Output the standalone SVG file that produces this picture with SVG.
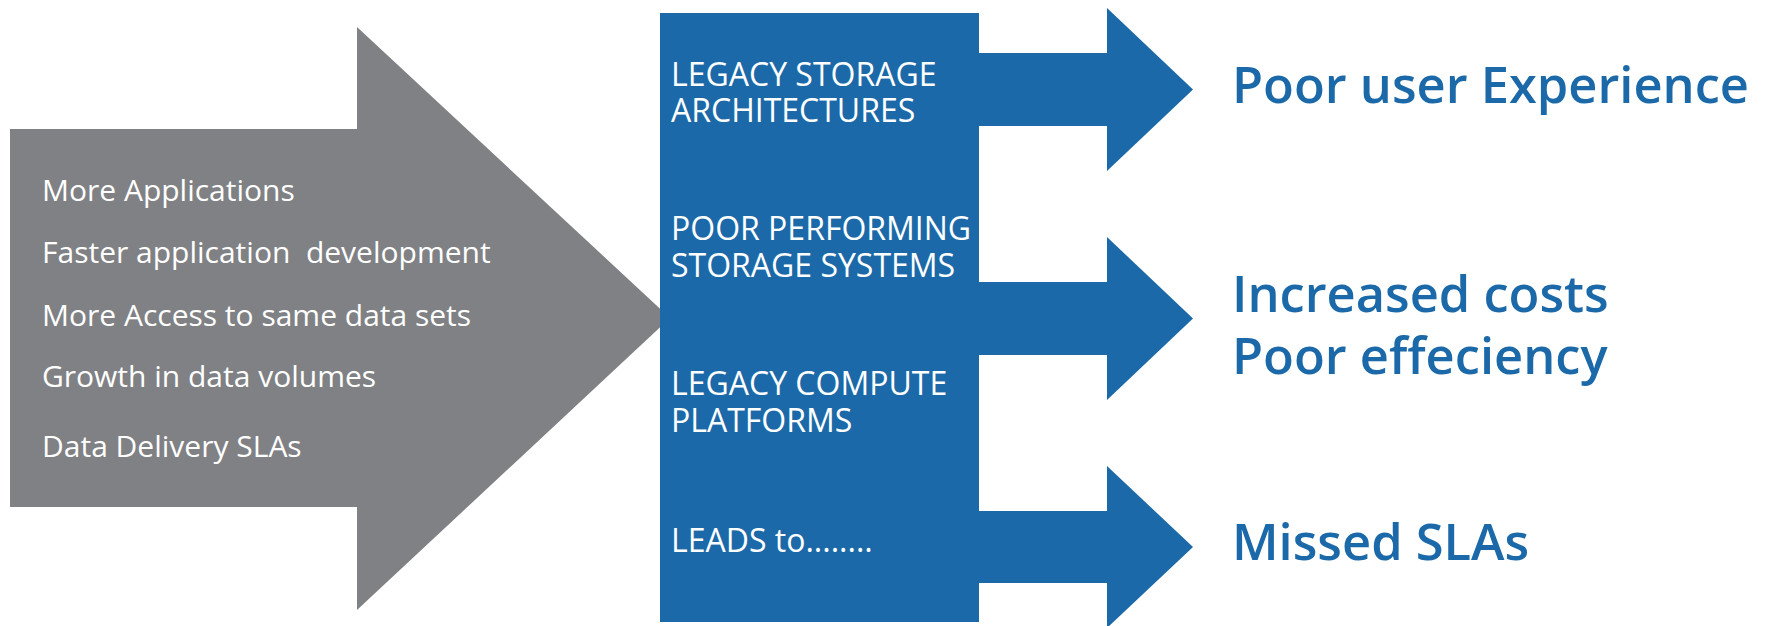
<svg xmlns="http://www.w3.org/2000/svg" width="1769" height="626" viewBox="0 0 1769 626">
<style>
.gray{fill:#808184}
.blue{fill:#1b69a8}
.lt{font-family:"Open Sans","Noto Sans",sans-serif;font-size:30px;fill:#ffffff;white-space:pre}
.bt{font-family:"Open Sans","Noto Sans",sans-serif;font-size:32px;fill:#ffffff}
.rt{font-family:"Open Sans","Noto Sans",sans-serif;font-size:50.6px;font-weight:600;fill:#1b69a8}
</style>
<rect width="1769" height="626" fill="#ffffff"/>
<g id="drivers">
<polygon class="gray" points="10,129 357,129 357,27 670,318 357,610 357,507 10,507"/>
<text class="lt" x="42" y="201">More Applications</text>
<text class="lt" x="42" y="263" xml:space="preserve">Faster application  development</text>
<text class="lt" x="42" y="326">More Access to same data sets</text>
<text class="lt" x="42" y="387">Growth in data volumes</text>
<text class="lt" x="42" y="457">Data Delivery SLAs</text>
</g>
<g id="connectors">
<polygon class="blue" points="975,53 1107,53 1107,8 1193,89.5 1107,171 1107,126 975,126"/>
<polygon class="blue" points="975,282 1107,282 1107,237 1193,318.5 1107,400 1107,355 975,355"/>
<polygon class="blue" points="975,511 1107,511 1107,466 1193,547 1107,628 1107,583 975,583"/>
</g>
<g id="causes">
<rect class="blue" x="660" y="13" width="319" height="609"/>
<text class="bt" x="671" y="86">LEGACY STORAGE</text>
<text class="bt" x="671" y="122">ARCHITECTURES</text>
<text class="bt" x="671" y="240">POOR PERFORMING</text>
<text class="bt" x="671" y="277">STORAGE SYSTEMS</text>
<text class="bt" x="671" y="395">LEGACY COMPUTE</text>
<text class="bt" x="671" y="432">PLATFORMS</text>
<text class="bt" x="671" y="552">LEADS to........</text>
</g>
<g id="outcome-1">
<text class="rt" x="1232" y="103">Poor user Experience</text>
</g>
<g id="outcome-2">
<text class="rt" x="1232" y="312">Increased costs</text>
<text class="rt" x="1232" y="374">Poor effeciency</text>
</g>
<g id="outcome-3">
<text class="rt" x="1232" y="560">Missed SLAs</text>
</g>
</svg>
